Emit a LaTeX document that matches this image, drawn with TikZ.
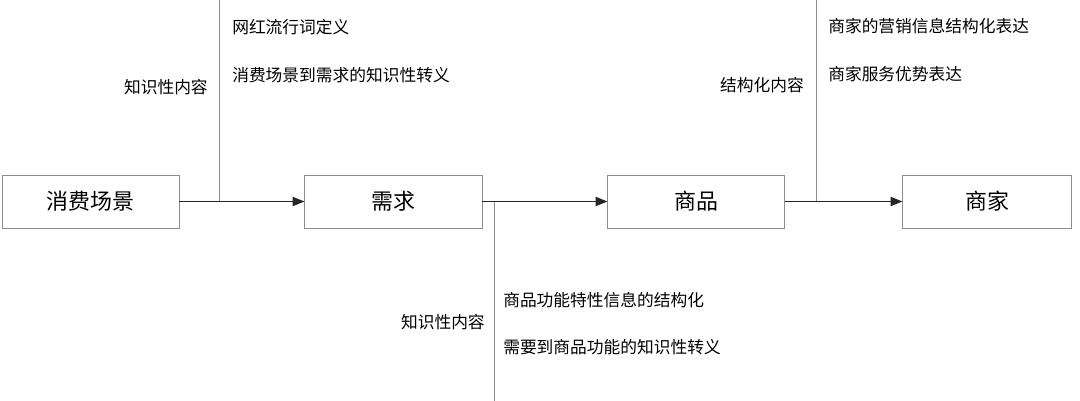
\documentclass[tikz,border=0pt]{standalone}
\usepackage{fontspec}
\setmainfont{Noto Sans CJK SC}
\usepackage{tikz}
\usetikzlibrary{arrows.meta, positioning, calc}

\begin{document}
\begin{tikzpicture}[
      node distance=1cm and 3.125cm,
      stage/.style={draw=black!45, line width=0.7pt, fill=white,
                    minimum width=4.425cm, minimum height=1.325cm,
                    inner sep=0pt, font=\fontsize{15.6}{18}\selectfont},
      flow/.style={-{Triangle[length=8.5pt,width=6.6pt]}, line width=0.9pt, black!85},
      tick/.style={black!45, line width=0.6pt},
      note/.style={font=\fontsize{11.9}{14}\selectfont, inner sep=0pt}
    ]
    \useasboundingbox (0,0) rectangle (27,-10.025);

    % stages
    \node[stage] (scene) at (2.2625,-5.0375) {消费场景};
    \node[stage, right=of scene] (demand) {需求};
    \node[stage, right=of demand] (goods) {商品};
    \node[stage, right=2.925cm of goods, minimum width=4.225cm] (shop) {商家};

    % junctions of the side lines
    \coordinate (j1) at ($(scene.east)!0.32!(demand.west)$);
    \coordinate (j2) at ($(demand.east)!0.096!(goods.west)$);
    \coordinate (j3) at ($(goods.east)!0.265!(shop.west)$);
    \coordinate (t1) at (j1 |- 0,0);
    \coordinate (b2) at (j2 |- 0,-10.025);
    \coordinate (t3) at (j3 |- 0,0);

    \draw[tick] (t1) -- (j1);
    \draw[tick] (j2) -- (b2);
    \draw[tick] (t3) -- (j3);

    \draw[flow] (scene) -- (demand);
    \draw[flow] (demand) -- (goods);
    \draw[flow] (goods) -- (shop);

    % labels
    \node[note, anchor=east] (k1) at (5.2,-2.175) {知识性内容};
    \node[note, anchor=west] (n1a) at (5.8,-0.675) {网红流行词定义};
    \node[note, anchor=west] (n1b) at (5.8,-1.875) {消费场景到需求的知识性转义};

    \node[note, anchor=east] (k2) at (12.125,-8.05) {知识性内容};
    \node[note, anchor=west] (n2a) at (12.575,-7.5) {商品功能特性信息的结构化};
    \node[note, anchor=west] (n2b) at (12.575,-8.675) {需要到商品功能的知识性转义};

    \node[note, anchor=east] (k3) at (20.1,-2.125) {结构化内容};
    \node[note, anchor=west] (n3a) at (20.7,-0.65) {商家的营销信息结构化表达};
    \node[note, anchor=west] (n3b) at (20.7,-1.85) {商家服务优势表达};
  \end{tikzpicture}
\end{document}
